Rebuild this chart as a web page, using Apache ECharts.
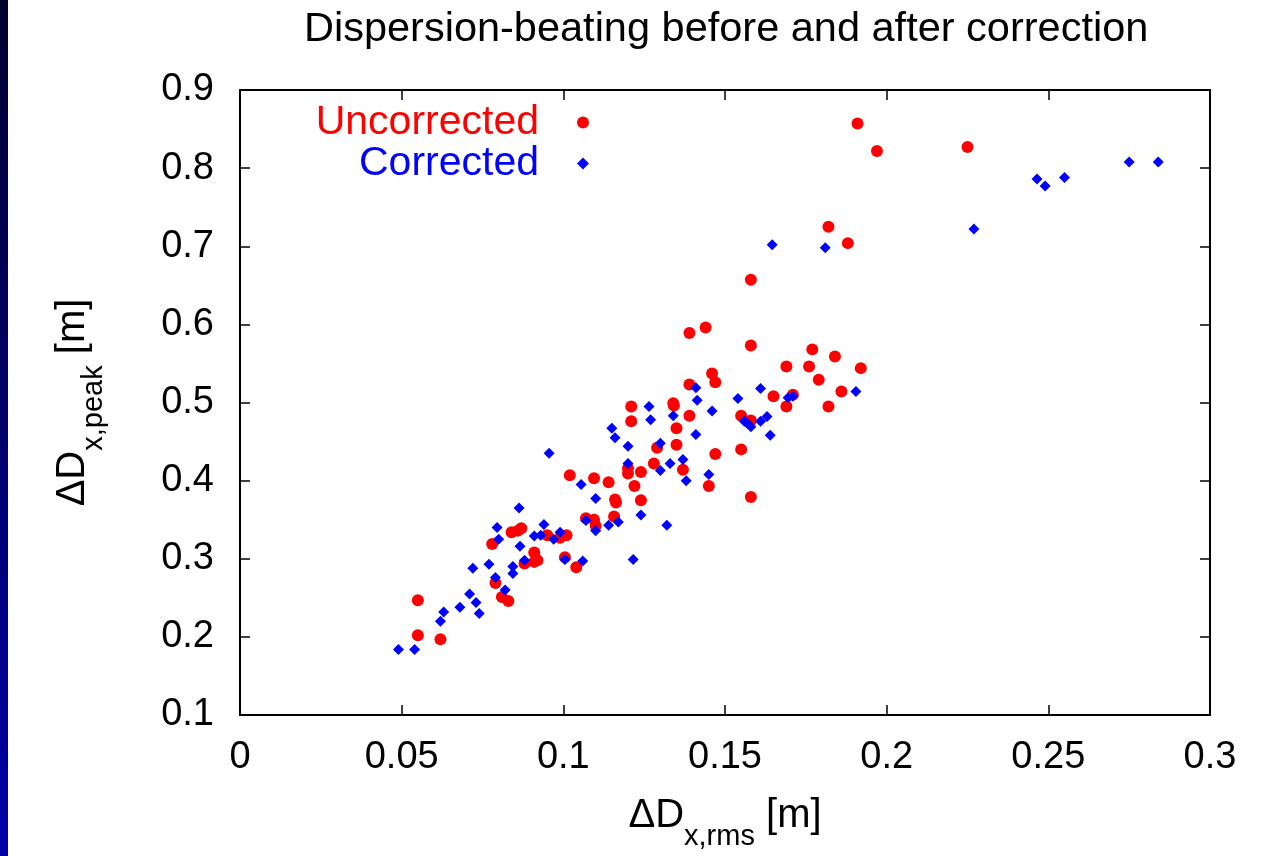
<!DOCTYPE html>
<html>
<head>
<meta charset="utf-8">
<title>Dispersion-beating</title>
<script src="https://cdn.jsdelivr.net/npm/echarts@6/dist/echarts.min.js"></script>
<style>
	html, body { margin: 0; padding: 0; background: #fff; }
	#strip { position: absolute; left: 0; top: 0; width: 8px; height: 856px; background: linear-gradient(#00002e, #0000a8); }
	#chart { position: absolute; left: 0; top: 0; width: 1280px; height: 856px; }
</style>
</head>
<body>
<div id="chart"></div>
<div id="strip"></div>
<script>
/**********************************************/
/* data */
/**********************************************/
// Uncorrected (red dots)
let uncorrectedX = [0.055, 0.055, 0.062, 0.078, 0.079, 0.081, 0.083, 0.084, 0.086, 0.087,
	0.088, 0.091, 0.092, 0.091, 0.095, 0.099, 0.101, 0.1005, 0.104, 0.107,
	0.1095, 0.110, 0.102, 0.1095, 0.114, 0.116, 0.1163, 0.1157, 0.122, 0.124,
	0.120, 0.120, 0.124, 0.121, 0.121, 0.128, 0.129, 0.135, 0.135, 0.137,
	0.134, 0.1342, 0.139, 0.139, 0.139, 0.144, 0.146, 0.147, 0.147, 0.145,
	0.155, 0.158, 0.155, 0.158, 0.158, 0.158, 0.165, 0.169, 0.169, 0.171,
	0.177, 0.176, 0.179, 0.184, 0.182, 0.186, 0.192, 0.182, 0.188, 0.191,
	0.197, 0.225];
let uncorrectedY = [0.247, 0.202, 0.197, 0.319, 0.269, 0.251, 0.246, 0.334, 0.336, 0.339,
	0.294, 0.308, 0.298, 0.296, 0.330, 0.327, 0.330, 0.302, 0.289, 0.352,
	0.350, 0.342, 0.407, 0.403, 0.398, 0.376, 0.372, 0.354, 0.393, 0.375,
	0.416, 0.409, 0.411, 0.495, 0.476, 0.422, 0.442, 0.446, 0.467, 0.414,
	0.499, 0.496, 0.483, 0.523, 0.589, 0.596, 0.537, 0.526, 0.434, 0.393,
	0.483, 0.477, 0.440, 0.573, 0.379, 0.657, 0.508, 0.546, 0.495, 0.510,
	0.568, 0.546, 0.529, 0.559, 0.495, 0.514, 0.544, 0.725, 0.704, 0.857,
	0.822, 0.827];

// Corrected (blue diamonds)
let correctedX = [0.049, 0.054, 0.062, 0.063, 0.068, 0.071, 0.073, 0.074, 0.072, 0.077,
	0.079, 0.082, 0.0795, 0.080, 0.0844, 0.0844, 0.0866, 0.0863, 0.088, 0.091,
	0.093, 0.094, 0.097, 0.099, 0.0956, 0.1005, 0.106, 0.1055, 0.110, 0.107,
	0.110, 0.114, 0.117, 0.115, 0.116, 0.120, 0.120, 0.124, 0.1216, 0.1265,
	0.127, 0.130, 0.130, 0.133, 0.132, 0.134, 0.137, 0.138, 0.141, 0.1414,
	0.141, 0.146, 0.145, 0.154, 0.156, 0.157, 0.158, 0.161, 0.163, 0.161,
	0.164, 0.1695, 0.171, 0.1905, 0.1646, 0.181, 0.227, 0.2465, 0.249, 0.255,
	0.275, 0.284];
let correctedY = [0.184, 0.184, 0.220, 0.232, 0.238, 0.255, 0.244, 0.230, 0.288, 0.293,
	0.276, 0.260, 0.340, 0.325, 0.290, 0.281, 0.316, 0.365, 0.298, 0.329,
	0.330, 0.344, 0.325, 0.334, 0.435, 0.299, 0.297, 0.395, 0.377, 0.349,
	0.336, 0.343, 0.347, 0.467, 0.455, 0.444, 0.422, 0.356, 0.299, 0.495,
	0.478, 0.448, 0.413, 0.422, 0.343, 0.483, 0.427, 0.400, 0.519, 0.503,
	0.459, 0.489, 0.408, 0.505, 0.476, 0.473, 0.469, 0.476, 0.482, 0.518,
	0.458, 0.506, 0.508, 0.514, 0.702, 0.698, 0.722, 0.786, 0.777, 0.788,
	0.808, 0.808];

let FONT = "'Liberation Sans', Arial, Helvetica, sans-serif";

/**********************************************/
/* helpers */
/**********************************************/
// zip x/y arrays into [x, y] pairs
function zipXY(xs, ys) {
	let arr = [];
	for (let i = 0; i < xs.length; i++) {
		arr.push([xs[i], ys[i]]);
	}
	return arr;
}

// one-item legend: fixed-width text box, right aligned, symbol on its right
function legendItem(name, color, top, size) {
	return {
		data: [name],
		orient: "vertical",
		align: "right",
		right: 686,
		top: top,
		itemWidth: size,
		itemHeight: size,
		itemGap: 0,
		textStyle: {
			color: color, fontSize: 41, fontFamily: FONT,
			width: 230, align: "right", padding: [0, 33, 0, 0]
		}
	};
}

// shared axis look (mirror ticks on every side, like gnuplot)
function boxAxis(extra) {
	return Object.assign({
		type: "value",
		splitLine: { show: false },
		axisLine: { show: true, onZero: false, lineStyle: { color: "#000", width: 2 } },
		axisTick: { show: true, inside: true, length: 10, lineStyle: { color: "#000", width: 1.5 } },
		axisLabel: { show: false }
	}, extra);
}

// rich text for "ΔD_sub [m]"
let nameRich = {
	a: { fontSize: 40, fontFamily: FONT, color: "#000", lineHeight: 50, verticalAlign: "top" },
	b: { fontSize: 29, fontFamily: FONT, color: "#000", lineHeight: 50, verticalAlign: "top", padding: [26, 0, 0, 0] }
};

/**********************************************/
/* chart */
/**********************************************/
let chart = echarts.init(document.getElementById("chart"), null, { renderer: "canvas" });

let tickLabel = { show: true, color: "#000", fontSize: 38, fontFamily: FONT };

chart.setOption({
	backgroundColor: "#fff",
	animation: false,
	title: {
		text: "Dispersion-beating before and after correction",
		left: 299,
		top: 4,
		textStyle: { color: "#000", fontSize: 41.5, fontWeight: "normal", fontFamily: FONT }
	},
	legend: [
		legendItem("Uncorrected", "#ff0000", 97, 12),
		legendItem("Corrected", "#0000ff", 138, 12)
	],
	grid: { left: 240, top: 90, right: 70, bottom: 140, containLabel: false },
	xAxis: [
		boxAxis({
			min: 0, max: 0.3, interval: 0.05, position: "bottom",
			axisLabel: Object.assign({ margin: 24 }, tickLabel),
			name: "{a|ΔD}{b|x,rms}{a| [m]}",
			nameLocation: "middle",
			nameGap: 81,
			nameTextStyle: { rich: nameRich }
		}),
		boxAxis({ min: 0, max: 0.3, interval: 0.05, position: "top" })
	],
	yAxis: [
		boxAxis({
			min: 0.1, max: 0.9, interval: 0.1, position: "left",
			axisLabel: Object.assign({ margin: 26 }, tickLabel),
			name: "{a|ΔD}{b|x,peak}{a| [m]}",
			nameLocation: "middle",
			nameGap: 137,
			nameRotate: 90,
			nameTextStyle: { rich: nameRich }
		}),
		boxAxis({ min: 0.1, max: 0.9, interval: 0.1, position: "right" })
	],
	series: [
		{
			name: "Uncorrected",
			type: "scatter",
			symbol: "circle",
			symbolSize: 12,
			itemStyle: { color: "#ff0000", opacity: 1 },
			data: zipXY(uncorrectedX, uncorrectedY)
		},
		{
			name: "Corrected",
			type: "scatter",
			symbol: "diamond",
			symbolSize: 11,
			itemStyle: { color: "#0000ff", opacity: 1 },
			data: zipXY(correctedX, correctedY)
		}
	]
});
</script>
</body>
</html>
